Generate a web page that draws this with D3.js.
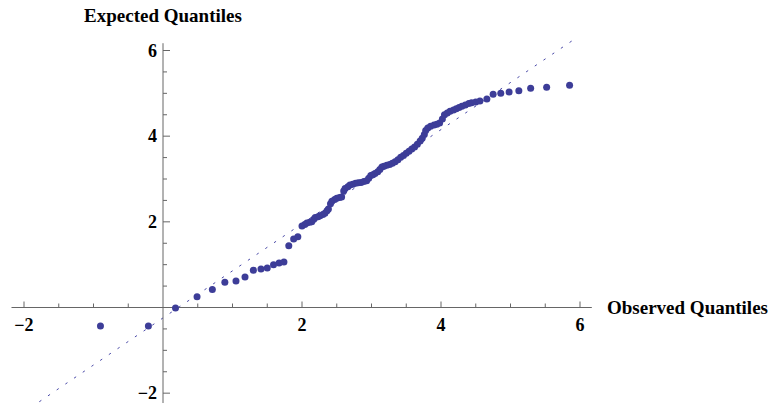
<!DOCTYPE html>
<html>
  <head>
    <meta charset="utf-8">
    <title>Q-Q Plot</title>
    <style>
      body { margin: 0; background: #fff; }
      svg { display: block; }
      .tick-label, .axis-title {
        font-family: "Liberation Serif", "Times New Roman", serif;
        font-weight: bold;
        fill: #000;
      }
      .tick-label { font-size: 18px; }
      .axis-title { font-size: 19px; }
    </style>
  </head>
  <body>
  <script src="https://cdnjs.cloudflare.com/ajax/libs/d3/7.8.5/d3.min.js"></script>
  <script>
const width = 768;
const height = 405;

// sorted sample quantiles
const observed = [
  -0.90, -0.21, 0.18, 0.49, 0.71, 0.89, 1.05, 1.18, 1.30, 1.41, 1.50, 1.59, 1.67, 1.74,
  1.81, 1.88, 1.94, 2.00, 2.04, 2.07, 2.11, 2.14, 2.17, 2.19, 2.23, 2.26, 2.30, 2.33,
  2.36, 2.38, 2.41, 2.43, 2.47, 2.50, 2.54, 2.57, 2.60, 2.62, 2.66, 2.69, 2.73, 2.77,
  2.81, 2.85, 2.89, 2.93, 2.96, 2.99, 3.02, 3.05, 3.09, 3.12, 3.15, 3.18, 3.22, 3.26,
  3.30, 3.34, 3.38, 3.42, 3.46, 3.50, 3.54, 3.58, 3.62, 3.66, 3.70, 3.73, 3.76, 3.78,
  3.81, 3.85, 3.90, 3.94, 3.98, 4.02, 4.05, 4.09, 4.13, 4.18, 4.22, 4.26, 4.30, 4.35,
  4.40, 4.44, 4.50, 4.56, 4.66, 4.75, 4.86, 4.98, 5.12, 5.29, 5.52, 5.85
];
const expected = [
  -0.43, -0.43, -0.01, 0.25, 0.42, 0.59, 0.62, 0.71, 0.87, 0.90, 0.92, 1.00, 1.04, 1.06,
  1.44, 1.60, 1.65, 1.90, 1.94, 1.97, 1.99, 2.00, 2.06, 2.10, 2.12, 2.14, 2.17, 2.20,
  2.26, 2.30, 2.42, 2.48, 2.52, 2.55, 2.57, 2.58, 2.72, 2.78, 2.82, 2.86, 2.88, 2.90,
  2.91, 2.92, 2.94, 2.96, 3.02, 3.08, 3.10, 3.13, 3.17, 3.22, 3.28, 3.30, 3.32, 3.34,
  3.37, 3.40, 3.45, 3.51, 3.55, 3.60, 3.65, 3.70, 3.75, 3.81, 3.89, 3.95, 4.04, 4.13,
  4.19, 4.23, 4.26, 4.28, 4.31, 4.40, 4.50, 4.54, 4.58, 4.61, 4.64, 4.67, 4.70, 4.73,
  4.76, 4.78, 4.80, 4.82, 4.87, 4.98, 5.00, 5.03, 5.06, 5.12, 5.14, 5.19
];

// reference line ends
const refX = [-1.78, 5.88];
const refY = [-2.20, 6.22];

const xMajor = [-2, 2, 4, 6];
const yMajor = [-2, 2, 4, 6];
const xMinor = d3.range(-2, 6.01, 0.5);
const yMinor = d3.range(-2, 6.01, 0.5);

const x = d3.scaleLinear().domain([0, 6]).range([163, 580]);
const y = d3.scaleLinear().domain([0, 6]).range([307.5, 50.5]);

const svg = d3.select('body').append('svg')
  .attr('width', width)
  .attr('height', height);

const fmt = (d) => d < 0 ? '\u2212' + Math.abs(d) : String(d);
const axisColor = '#666';

// dotted reference line
svg.append('line')
  .attr('x1', x(refX[0])).attr('y1', y(refY[0]))
  .attr('x2', x(refX[1])).attr('y2', y(refY[1]))
  .attr('stroke', '#4a4aa8')
  .attr('stroke-width', 1)
  .attr('stroke-dasharray', '2.5,8');

// axes
const axes = svg.append('g');
axes.append('line')
  .attr('x1', x(-2.18)).attr('x2', x(6.17))
  .attr('y1', y(0)).attr('y2', y(0))
  .attr('stroke', axisColor);
axes.append('line')
  .attr('x1', x(0)).attr('x2', x(0))
  .attr('y1', y(6.17)).attr('y2', y(-2.23))
  .attr('stroke', axisColor);

axes.selectAll('line.xtick')
  .data(xMinor.filter((d) => d !== 0))
  .join('line')
  .attr('class', 'xtick')
  .attr('x1', (d) => x(d)).attr('x2', (d) => x(d))
  .attr('y1', y(0))
  .attr('y2', (d) => y(0) - (xMajor.includes(d) ? 6 : 4))
  .attr('stroke', axisColor);

axes.selectAll('line.ytick')
  .data(yMinor.filter((d) => d !== 0))
  .join('line')
  .attr('class', 'ytick')
  .attr('y1', (d) => y(d)).attr('y2', (d) => y(d))
  .attr('x1', x(0))
  .attr('x2', (d) => x(0) + (yMajor.includes(d) ? 7 : 4))
  .attr('stroke', axisColor);

axes.selectAll('text.xlab')
  .data(xMajor)
  .join('text')
  .attr('class', 'tick-label xlab')
  .attr('x', (d) => x(d))
  .attr('y', y(0) + 23)
  .attr('text-anchor', 'middle')
  .text(fmt);

axes.selectAll('text.ylab')
  .data(yMajor)
  .join('text')
  .attr('class', 'tick-label ylab')
  .attr('x', x(0) - 6)
  .attr('y', (d) => y(d) + 6)
  .attr('text-anchor', 'end')
  .text(fmt);

svg.append('text')
  .attr('class', 'axis-title')
  .attr('x', x(0))
  .attr('y', 22)
  .attr('text-anchor', 'middle')
  .text('Expected Quantiles');

svg.append('text')
  .attr('class', 'axis-title')
  .attr('x', 607)
  .attr('y', 314)
  .text('Observed Quantiles');

// points
svg.append('g').selectAll('circle')
  .data(observed.map((d, i) => [d, expected[i]]))
  .join('circle')
  .attr('cx', (d) => x(d[0]))
  .attr('cy', (d) => y(d[1]))
  .attr('r', 3.5)
  .attr('fill', '#3d3d98');
  </script>
  </body>
</html>
